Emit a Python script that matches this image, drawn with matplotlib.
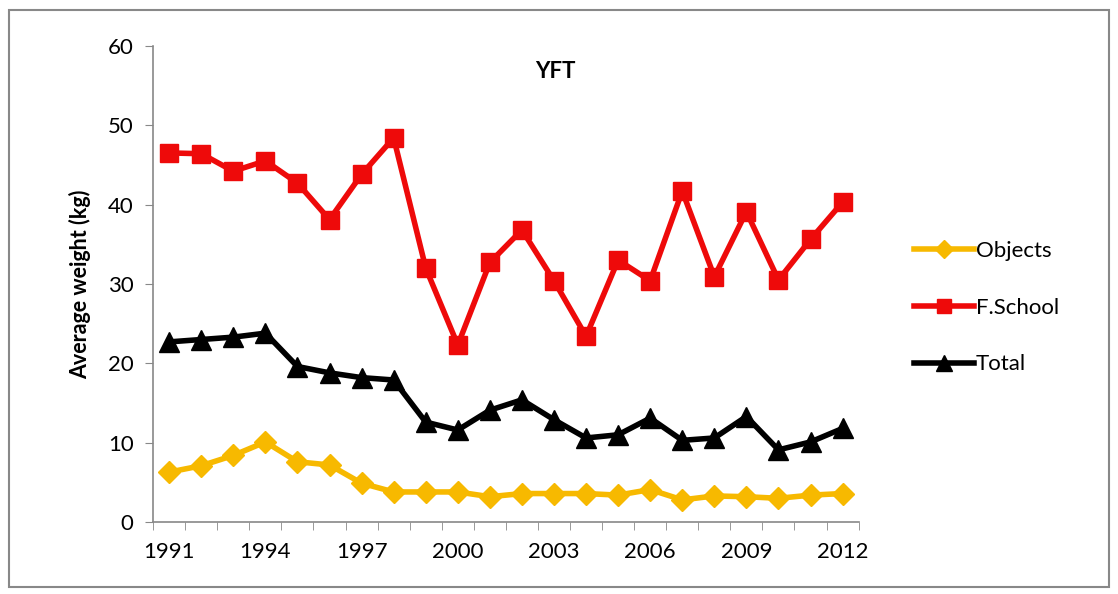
import matplotlib.pyplot as plt
from matplotlib.patches import Rectangle

# data
years = list(range(1991, 2013))
objects = [6.3, 7.1, 8.4, 10.1, 7.6, 7.2, 4.9, 3.8, 3.8, 3.8, 3.2,
           3.6, 3.6, 3.6, 3.4, 4.1, 2.8, 3.3, 3.2, 3.0, 3.4, 3.6]
fschool = [46.5, 46.4, 44.2, 45.5, 42.7, 38.1, 43.8, 48.4, 32.0, 22.3, 32.7,
           36.8, 30.4, 23.4, 33.0, 30.4, 41.7, 30.9, 39.1, 30.5, 35.6, 40.3]
total = [22.7, 23.0, 23.3, 23.8, 19.6, 18.8, 18.2, 17.9, 12.6, 11.6, 14.1,
         15.4, 12.9, 10.6, 11.0, 13.1, 10.3, 10.6, 13.3, 9.1, 10.1, 11.8]
tickYears = years[::3]

plt.rcParams['font.family'] = ['Lato', 'DejaVu Sans']

fig = plt.figure(figsize=(11.18, 5.94), dpi=100)
ax = fig.add_axes([0.137, 0.121, 0.631, 0.802])

x = list(range(len(years)))
ax.plot(x, objects, color='#F7B900', lw=4, marker='D', ms=11, label='Objects')
ax.plot(x, fschool, color='#EE0A0A', lw=4, marker='s', ms=12.5, label='F.School')
ax.plot(x, total, color='black', lw=4, marker='^', ms=14, label='Total')

ax.set_xlim(-0.5, len(years) - 0.5)
ax.set_ylim(0, 60)
ax.set_yticks(range(0, 61, 10))
ax.set_xticks([years.index(y) for y in tickYears])
ax.set_xticklabels([str(y) for y in tickYears])
ax.set_xticks([i - 0.5 for i in range(len(years) + 1)], minor=True)
ax.tick_params(axis='x', which='major', length=0, pad=14, labelsize=16)
ax.tick_params(axis='x', which='minor', length=6, direction='out', color='#888888')
ax.tick_params(axis='y', length=6, direction='out', color='#888888', labelsize=16, pad=8)

for s in ['top', 'right']:
    ax.spines[s].set_visible(False)
for s in ['left', 'bottom']:
    ax.spines[s].set_color('#888888')
    ax.spines[s].set_linewidth(1.2)

ax.set_ylabel('Average weight (kg)', fontsize=15.5, fontweight='bold', labelpad=12)
ax.text(0.57, 0.945, 'YFT', transform=ax.transAxes, ha='center', va='center',
        fontsize=16, fontweight='bold')

leg = ax.legend(loc='center left', bbox_to_anchor=(1.05, 0.45), frameon=False,
                fontsize=16, handlelength=2.7, labelspacing=1.65, handletextpad=0.1,
                markerscale=0.8)

fig.patches.append(Rectangle((0.008, 0.012), 0.984, 0.972, transform=fig.transFigure,
                             fill=False, edgecolor='#888888', lw=1.5))

fig.savefig('out.png', dpi=100)
